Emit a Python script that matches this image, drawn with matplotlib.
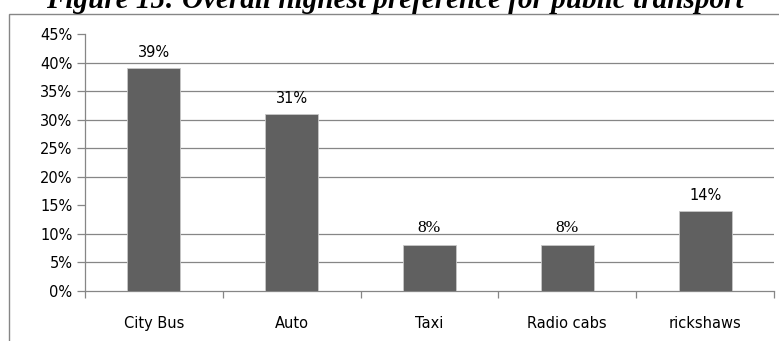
import matplotlib
matplotlib.use('Agg')
import matplotlib.pyplot as plt
from matplotlib.patches import Rectangle
import numpy as np

categories = ['City Bus', 'Auto', 'Taxi', 'Radio cabs', 'rickshaws']
shares = [39, 31, 8, 8, 14]          # percent of respondents
yticks = [0, 5, 10, 15, 20, 25, 30, 35, 40, 45]
grid_at = [5, 10, 20, 25, 30, 35, 40]  # no line drawn at 15%
title = 'Figure 15: Overall highest preference for public transport'

W, H = 779, 341
fig = plt.figure(figsize=(W/100, H/100), dpi=100)
grey = '#868686'
sans = ['DejaVu Sans']

# chart frame, runs off the right and bottom edges
fig.patches.append(Rectangle((9/W, -0.1), 1.2, 1.1 - 13.5/H, transform=fig.transFigure,
                             fill=False, edgecolor=grey, lw=1.0))

fig.text(395/W, 1 - 7.5/H, title, ha='center', va='baseline', fontsize=21,
         family='Liberation Serif', weight='bold', style='italic')

ax = fig.add_axes([85/W, 1 - 291/H, 689/W, 257/H])
x = np.arange(len(categories))
ax.bar(x, shares, width=0.385, color='#606060', edgecolor='#c8c8c8', lw=0.6, zorder=3)
ax.set_xlim(-0.5, len(categories) - 0.5)
ax.set_ylim(0, 45)

for g in grid_at:
    ax.axhline(g, color=grey, lw=0.9, zorder=1)

for xi, v in zip(x, shares):
    if v == 8:
        ax.annotate(f'{v}%', (xi, v), xytext=(0, 7), textcoords='offset points',
                    ha='center', va='bottom', fontsize=12.5, family='Liberation Serif')
    else:
        ax.annotate(f'{v}%', (xi, v), xytext=(0, 6), textcoords='offset points',
                    ha='center', va='bottom', fontsize=10.5, family=sans)

ax.set_yticks(yticks)
ax.set_yticklabels([f'{t}%' for t in yticks], family=sans, fontsize=10.5)
ax.tick_params(axis='y', length=6, color=grey, width=0.9, pad=3)

# category names centred, tick marks between categories
ax.set_xticks(np.arange(len(categories) + 1) - 0.5)
ax.set_xticklabels([])
ax.set_xticks(x, minor=True)
ax.set_xticklabels(categories, minor=True, family=sans, fontsize=10.5)
ax.tick_params(axis='x', which='major', length=5, color=grey, width=0.9)
ax.tick_params(axis='x', which='minor', length=0, pad=18)

for s in ['top', 'right']:
    ax.spines[s].set_visible(False)
for s in ['left', 'bottom']:
    ax.spines[s].set_color(grey)
    ax.spines[s].set_linewidth(0.9)

fig.savefig('out.png', dpi=100)
